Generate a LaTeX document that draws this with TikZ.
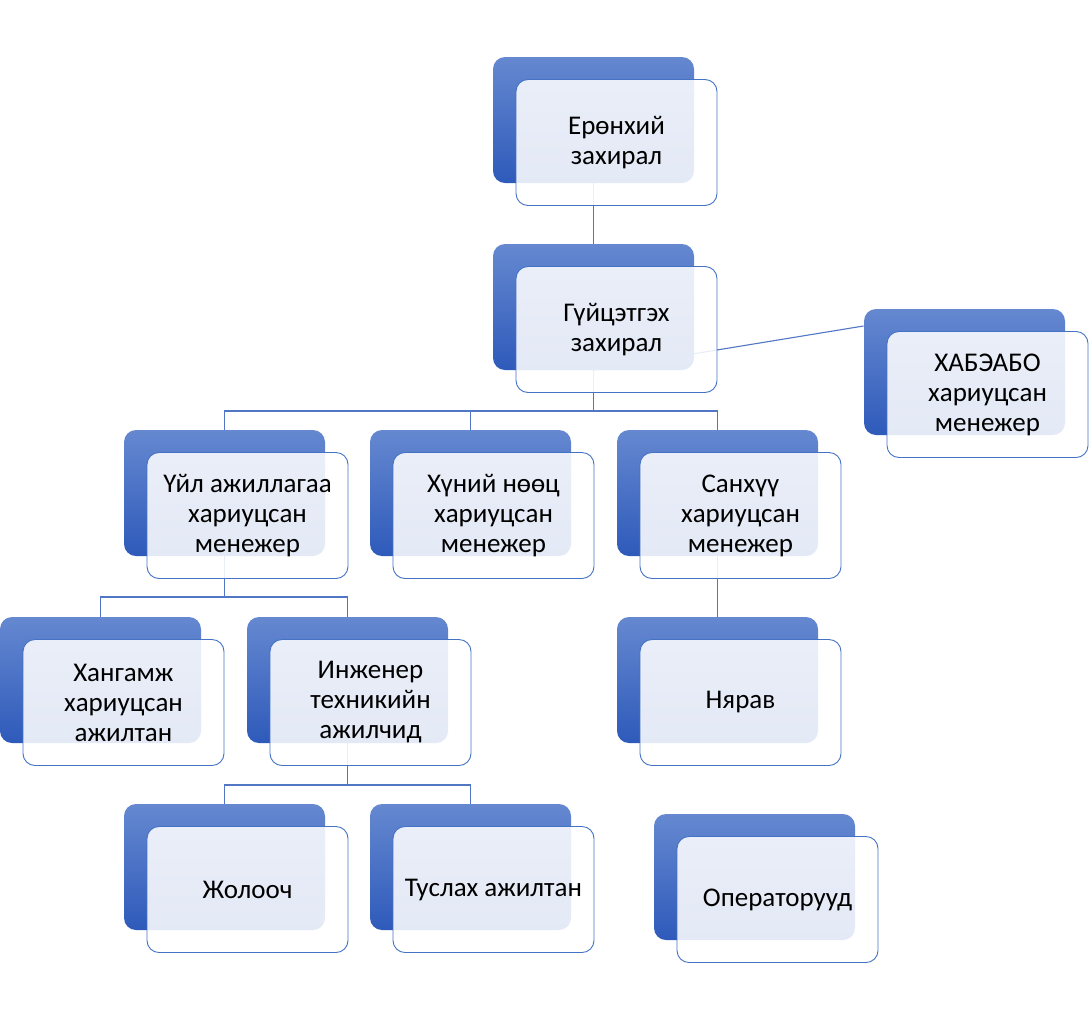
\documentclass[tikz,border=0pt]{standalone}
\usepackage{fontspec}
\setmainfont{Carlito}
\usetikzlibrary{calc}
\definecolor{bgtop}{RGB}{101,136,208}
\definecolor{bgbot}{RGB}{46,90,186}
\definecolor{edgeblue}{RGB}{68,114,196}
\definecolor{lineblue}{RGB}{80,118,196}
\pgfdeclarelayer{background}
\pgfsetlayers{background,main}
\tikzset{
  backbox/.style={rectangle, rounded corners=12pt, minimum width=201pt, minimum height=126pt,
    top color=bgtop, bottom color=bgbot, draw=none, inner sep=0pt},
  frontbox/.style={rectangle, rounded corners=12pt, minimum width=201pt, minimum height=126pt,
    fill=white, fill opacity=0.87, text opacity=1, draw=edgeblue, line width=0.9pt,
    align=center, font=\fontsize{27}{30}\selectfont, inner sep=0pt},
  conn/.style={draw=lineblue, line width=1.1pt}
}
\newcommand\orgunit[4]{%
  \node[backbox] (b#1) at (#2+100.5,#3+63) {};
  \node[frontbox] (f#1) at (#2+123.5,#3+85.5) {#4};
}
\begin{document}
\begin{tikzpicture}[x=1pt,y=-1pt]
\useasboundingbox (0,0) rectangle (1089,1010);
\orgunit{1}{493}{57}{Ерөнхий\\захирал}
\orgunit{2}{493}{244}{Гүйцэтгэх\\захирал}
\orgunit{3}{864}{309}{ХАБЭАБО\\хариуцсан\\менежер}
\orgunit{4}{124}{430}{Үйл ажиллагаа\\хариуцсан\\менежер}
\orgunit{5}{370}{430}{Хүний нөөц\\хариуцсан\\менежер}
\orgunit{6}{617}{430}{Санхүү\\хариуцсан\\менежер}
\orgunit{7}{0}{617}{Хангамж\\хариуцсан\\ажилтан}
\orgunit{8}{247}{617}{Инженер\\техникийн\\ажилчид}
\orgunit{9}{617}{617}{Нярав}
\orgunit{10}{124}{804}{Жолооч}
\orgunit{11}{370}{804}{Туслах ажилтан}
\orgunit{12}{654}{814}{Операторууд}
\coordinate (j1) at (593.5,411);
\coordinate (j2) at (224.5,597);
\coordinate (j3) at (347.5,785);
\coordinate (hj) at (863.5,326);
\begin{pgfonlayer}{background}
\draw[conn] (b1) -- (b2);
\draw[conn] (b2) -- (j1);
\draw[conn] (j1) -| (b4);
\draw[conn] (j1) -| (b5);
\draw[conn] (j1) -| (b6);
\draw[conn] (b2.south) -- (hj);
\draw[conn] (b4) -- (j2);
\draw[conn] (j2) -| (b7);
\draw[conn] (j2) -| (b8);
\draw[conn] (b8) -- (j3);
\draw[conn] (j3) -| (b10);
\draw[conn] (j3) -| (b11);
\draw[conn] (b6) -- (b9);
\end{pgfonlayer}
\end{tikzpicture}
\end{document}
